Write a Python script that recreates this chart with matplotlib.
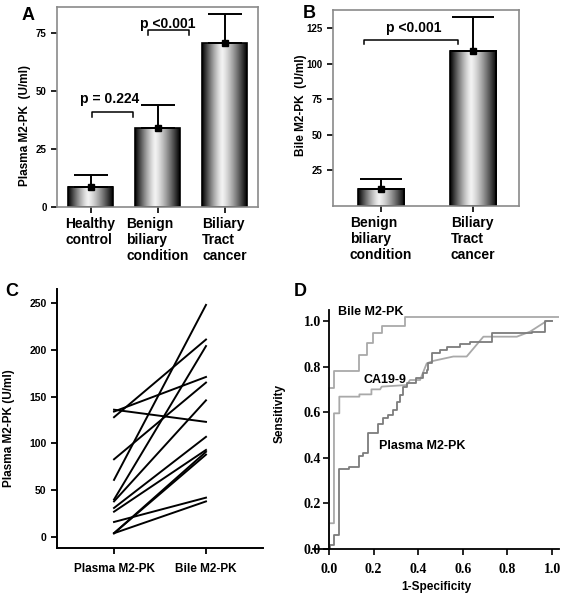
import matplotlib
matplotlib.use('Agg')
import matplotlib.pyplot as plt
import numpy as np

plt.rcParams['font.family'] = ['Liberation Sans', 'DejaVu Sans']
plt.rcParams['font.weight'] = 'bold'

# panel A - plasma M2-PK by group
a_groups = ['Healthy\ncontrol', 'Benign\nbiliary\ncondition', 'Biliary\nTract\ncancer']
a_means = [8.7, 33.9, 70.4]
a_err = [5.1, 10.0, 12.5]

# panel B - bile M2-PK by group
b_groups = ['Benign\nbiliary\ncondition', 'Biliary\nTract\ncancer']
b_means = [12.1, 109.2]
b_err = [7.0, 24.0]

# panel C - paired plasma / bile values
c_plasma = [136, 134, 128, 83, 61, 40, 38, 31, 27, 16, 4, 4, 4]
c_bile = [123, 171, 211, 165, 248, 204, 146, 107, 93, 42, 38, 91, 88]
c_labels = ['Plasma M2-PK', 'Bile M2-PK']

# panel D - ROC curves
bile_fpr = [0.0, 0.0, 0.02, 0.136, 0.172, 0.196, 0.236, 0.34, 1.03]
bile_tpr = [0.0, 0.705, 0.78, 0.85, 0.905, 0.946, 0.98, 1.016, 1.016]
plasma_fpr = [0.0, 0.004, 0.022, 0.046, 0.091, 0.136, 0.154, 0.176, 0.221, 0.244,
              0.266, 0.288, 0.303, 0.318, 0.333, 0.348, 0.39, 0.423, 0.438, 0.445,
              0.46, 0.498, 0.528, 0.587, 0.632, 0.73, 0.909, 0.969, 1.0]
plasma_tpr = [0.0, 0.018, 0.061, 0.35, 0.361, 0.408, 0.42, 0.507, 0.55, 0.573,
              0.588, 0.61, 0.646, 0.675, 0.712, 0.727, 0.75, 0.77, 0.785, 0.815,
              0.858, 0.873, 0.887, 0.9, 0.909, 0.946, 0.953, 1.0, 1.0]
ca_fpr = [0.0, 0.0, 0.022, 0.022, 0.046, 0.046, 0.136, 0.136, 0.19, 0.19, 0.229, 0.236,
          0.348, 0.363, 0.408, 0.438, 0.468, 0.557, 0.617, 0.692, 0.73, 0.842, 0.901,
          0.976, 1.0]
ca_tpr = [0.0, 0.113, 0.113, 0.595, 0.595, 0.668, 0.668, 0.678, 0.678, 0.70, 0.70, 0.712,
          0.719, 0.741, 0.741, 0.814, 0.825, 0.844, 0.844, 0.931, 0.931, 0.931, 0.953,
          1.0, 1.0]

W, H = 574, 601
fig = plt.figure(figsize=(W / 100, H / 100), dpi=100)


def box(l, t, r, b):
    return [l / W, (H - b) / H, (r - l) / W, (b - t) / H]


# horizontal "cylinder" shading for the bars
t = np.linspace(0, 1, 200)
c = 0.45
d = np.where(t < c, (c - t) / c, (t - c) / (1 - c))
grad = (0.95 * (1 - d ** 1.3))[np.newaxis, :]


def bar_panel(ax, means, errs, groups, width, cap, ylim, xlim, yticks):
    xs = np.arange(1, len(means) + 1)
    for x, m in zip(xs, means):
        ax.imshow(grad, extent=[x - width / 2, x + width / 2, 0, m], aspect='auto',
                  cmap='gray', vmin=0, vmax=1, zorder=1)
    ax.bar(xs, means, width, fill=False, edgecolor='black', linewidth=1.2, zorder=2)
    ax.errorbar(xs, means, yerr=[np.zeros(len(errs)), errs], fmt='s', color='black',
                ms=4.5, capsize=cap, elinewidth=1.4, capthick=1.4, zorder=3)
    ax.set_xlim(*xlim)
    ax.set_ylim(*ylim)
    ax.set_xticks(xs)
    ax.set_xticklabels(groups, fontsize=10, fontweight='bold', linespacing=1.2,
                       multialignment='left')
    ax.set_yticks(yticks)
    ax.set_yticklabels([str(v) for v in yticks], fontsize=7, fontweight='bold')
    ax.tick_params(direction='out', length=4, width=1.2, colors='black')
    ax.tick_params(axis='x', pad=3)
    for s in ax.spines.values():
        s.set_color('#8a8a8a')
        s.set_linewidth(1.2)


def bracket(ax, x0, x1, ytop, ybot, label, tx, ty):
    ax.plot([x0, x0, x1, x1], [ybot, ytop, ytop, ybot], color='black', lw=1.1, zorder=4)
    ax.text(tx, ty, label, ha='center', va='center', fontsize=10, fontweight='bold')


# ---- A ----
axA = fig.add_axes(box(57, 7, 258, 207))
bar_panel(axA, a_means, a_err, a_groups, 0.67, 12, (0, 86), (0.5, 3.5), [0, 25, 50, 75])
axA.set_ylabel('Plasma M2-PK  (U/ml)', fontsize=8.5, fontweight='bold')
axA.yaxis.set_label_coords(-0.13, 0.41)
bracket(axA, 1.02, 1.63, 40.9, 38.6, 'p = 0.224', 1.28, 46.4)
bracket(axA, 1.86, 2.47, 76.1, 74.0, 'p <0.001', 2.15, 78.9)

# ---- B ----
axB = fig.add_axes(box(333, 10, 519, 206))
bar_panel(axB, b_means, b_err, b_groups, 0.5, 15, (0, 138), (0.48, 2.5),
          [25, 50, 75, 100, 125])
axB.set_ylabel('Bile M2-PK  (U/ml)', fontsize=8.5, fontweight='bold')
axB.yaxis.set_label_coords(-0.14, 0.515)
bracket(axB, 0.817, 1.84, 116.9, 114.0, 'p <0.001', 1.353, 125.5)

# ---- C ----
axC = fig.add_axes(box(57, 289, 263, 548))
for p, b in zip(c_plasma, c_bile):
    axC.plot([1, 2], [p, b], color='black', lw=1.4)
axC.set_xlim(0.38, 2.62)
axC.set_ylim(-11.8, 265)
axC.set_xticks([1, 2])
axC.set_xticklabels(c_labels, fontsize=8.5, fontweight='bold')
axC.set_yticks([0, 50, 100, 150, 200, 250])
axC.set_yticklabels(['0', '50', '100', '150', '200', '250'], fontsize=7.5, fontweight='bold')
axC.tick_params(direction='out', length=4, width=1.3)
axC.tick_params(axis='x', pad=7)
axC.spines['top'].set_visible(False)
axC.spines['right'].set_visible(False)
for s in ['left', 'bottom']:
    axC.spines[s].set_linewidth(1.4)
axC.set_ylabel('Plasma M2-PK (U/ml)', fontsize=8.5, fontweight='bold')
axC.yaxis.set_label_coords(-0.204, 0.463)

# ---- D ----
axD = fig.add_axes(box(313, 310, 559, 549))
axD.plot(bile_fpr, bile_tpr, drawstyle='steps-post', color='#a9a9a9', lw=1.3)
axD.plot(ca_fpr, ca_tpr, color='#a9a9a9', lw=1.3)
axD.plot(plasma_fpr, plasma_tpr, drawstyle='steps-post', color='#7c7c7c', lw=1.3)
axD.set_xlim(-0.072, 1.031)
axD.set_ylim(0, 1.048)
axD.spines['top'].set_visible(False)
axD.spines['right'].set_visible(False)
axD.spines['left'].set_position(('data', 0))
for s in ['left', 'bottom']:
    axD.spines[s].set_linewidth(1.3)
ticks = [0.0, 0.2, 0.4, 0.6, 0.8, 1.0]
axD.set_xticks(ticks)
axD.set_yticks(ticks)
axD.set_xticklabels(['%.1f' % v for v in ticks], family='Liberation Serif',
                    fontsize=10, fontweight='bold')
axD.set_yticklabels(['%.1f' % v for v in ticks], family='Liberation Serif',
                    fontsize=10, fontweight='bold')
axD.tick_params(direction='out', length=4, width=1.2)
axD.tick_params(axis='x', pad=6)
axD.tick_params(axis='y', pad=2)
axD.set_xlabel('1-Specificity', fontsize=8.5, fontweight='bold', labelpad=4)
axD.set_ylabel('Sensitivity', fontsize=8.5, fontweight='bold')
axD.yaxis.set_label_coords(-0.11, 0.569)
axD.text(0.04, 1.04, 'Bile M2-PK', fontsize=9, fontweight='bold', va='center')
axD.text(0.155, 0.742, 'CA19-9', fontsize=9, fontweight='bold', va='center')
axD.text(0.225, 0.45, 'Plasma M2-PK', fontsize=9, fontweight='bold', va='center')

# panel letters
for letter, x, y in [('A', 28, 15), ('B', 309, 14), ('C', 12, 291), ('D', 300, 291)]:
    fig.text(x / W, 1 - y / H, letter, fontsize=13, fontweight='bold', ha='center', va='center')

fig.savefig('out.png', dpi=100)
